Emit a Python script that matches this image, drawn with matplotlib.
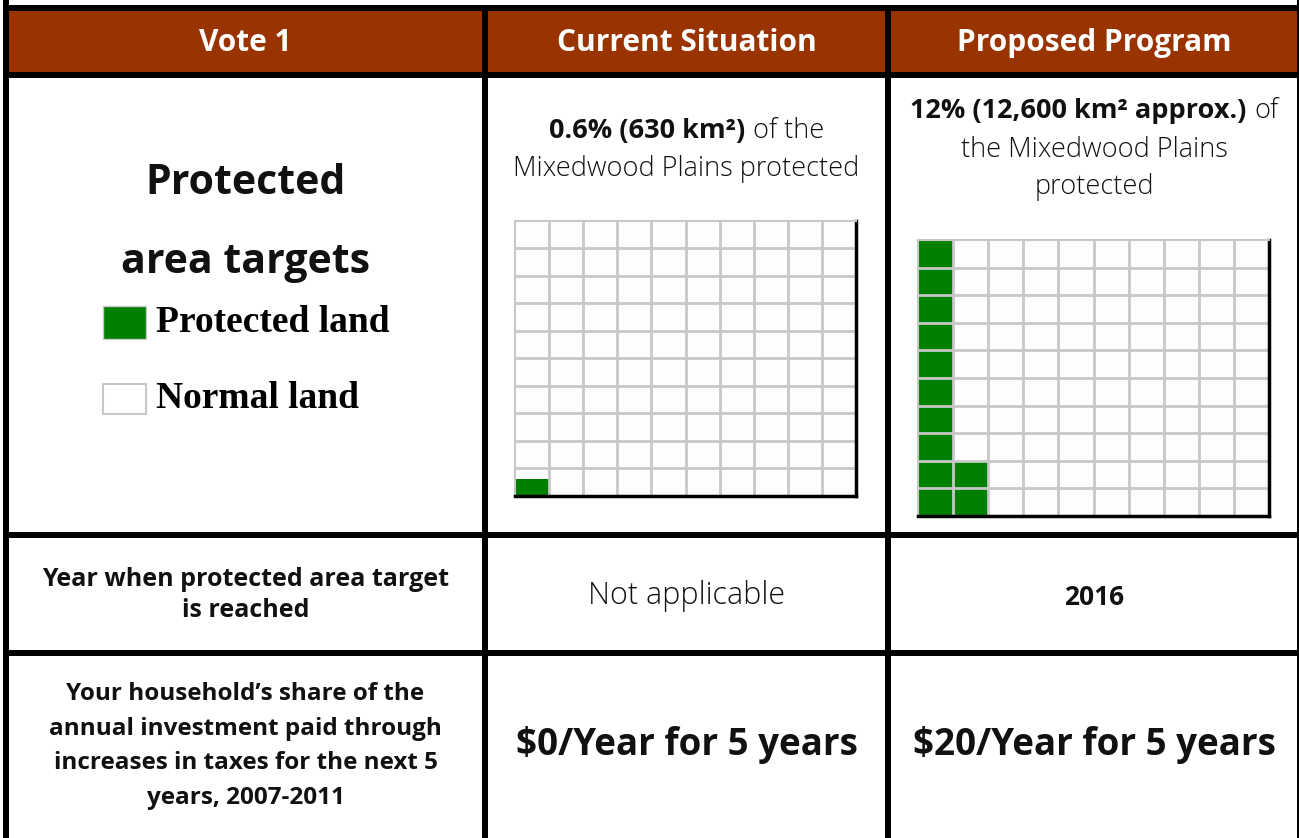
import matplotlib
matplotlib.use("Agg")
import matplotlib.pyplot as plt
from matplotlib.patches import Rectangle
from matplotlib.offsetbox import TextArea, HPacker, AnnotationBbox

# ---------------- data ----------------
headers = ["Vote 1", "Current Situation", "Proposed Program"]
row_label_target = ["Protected", "area targets"]
legend_labels = ["Protected land", "Normal land"]
protected_pct = [0.6, 12]                       # % of area protected (cells of a 10x10 grid)
area_bold = ["0.6% (630 km²)", "12% (12,600 km² approx.)"]
year_label = "Year when protected area target\nis reached"
year_values = ["Not applicable", "2016"]
cost_label = ("Your household\u2019s share of the\nannual investment paid through\n"
              "increases in taxes for the next 5\nyears, 2007-2011")
cost_per_year = [0, 20]
cost_years = 5

# ---------------- style ----------------
W, H = 1299, 838
RED = "#993300"
GREEN = "#008000"
SANS = "Open Sans"
TXT = "#111111"

fig = plt.figure(figsize=(W / 100, H / 100), dpi=100)
ax = fig.add_axes([0, 0, 1, 1])
ax.set_xlim(0, W)
ax.set_ylim(H, 0)
ax.axis("off")

# table frame
cols = [(9, 482), (488, 885), (891, 1297)]
ax.add_patch(Rectangle((9, 11), 1288, 61, color=RED, lw=0))
for x0 in (3, 1297):
    ax.add_patch(Rectangle((x0, 0), 6, H, color="black", lw=0))
for x0 in (482, 885):
    ax.add_patch(Rectangle((x0, 5), 6, H, color="black", lw=0))
for y0 in (5, 72, 532, 650):
    ax.add_patch(Rectangle((3, y0), 1300, 6, color="black", lw=0))

centers = [(a + b) / 2 for a, b in cols]

# header
for c, h in zip(centers, headers):
    ax.text(c, 43, h, ha="center", va="center", color="white", fontsize=21.5,
            fontweight="bold", family=SANS)

# row: protected area targets
ax.text(centers[0], 183, row_label_target[0], ha="center", va="center", fontsize=29.5,
        fontweight="bold", family=SANS, color=TXT)
ax.text(centers[0], 262, row_label_target[1], ha="center", va="center", fontsize=29.5,
        fontweight="bold", family=SANS, color=TXT)
ax.add_patch(Rectangle((103, 306), 43, 33, facecolor=GREEN, edgecolor="#c8c8c8", lw=1))
ax.add_patch(Rectangle((103, 384), 43, 30, facecolor="white", edgecolor="#c8c8c8", lw=1.5))
ax.text(156, 322, legend_labels[0], ha="left", va="center", fontsize=27,
        fontweight="bold", family="Liberation Serif", color="black")
ax.text(156, 398, legend_labels[1], ha="left", va="center", fontsize=27,
        fontweight="bold", family="Liberation Serif", color="black")


def mixed_line(x, y, bold, regular, size):
    parts = []
    if bold:
        parts.append(TextArea(bold, textprops=dict(fontsize=size, fontweight="bold",
                                                   family=SANS, color=TXT)))
    if regular:
        parts.append(TextArea(regular, textprops=dict(fontsize=size, fontweight="light",
                                                      family=SANS, color=TXT)))
    box = HPacker(children=parts, align="baseline", pad=0, sep=6)
    ab = AnnotationBbox(box, (x, y), xycoords="data", frameon=False,
                        box_alignment=(0.5, 0.5), pad=0)
    ax.add_artist(ab)


desc_size = 19.5
mixed_line(centers[1], 131, area_bold[0], "of the", desc_size)
mixed_line(centers[1], 169, None, "Mixedwood Plains protected", desc_size)
mixed_line(centers[2], 111, area_bold[1], "of", desc_size)
mixed_line(centers[2], 150, None, "the Mixedwood Plains", desc_size)
mixed_line(centers[2], 187, None, "protected", desc_size)

# waffle grids (10 x 10, filled column by column from bottom-left)
grid_boxes = [(515, 221, 856, 496), (918, 240, 1269, 516)]
for pct, (x0, y0, x1, y1) in zip(protected_pct, grid_boxes):
    wax = fig.add_axes([x0 / W, 1 - y1 / H, (x1 - x0) / W, (y1 - y0) / H])
    wax.set_xlim(0, 10)
    wax.set_ylim(0, 10)
    wax.set_xticks([])
    wax.set_yticks([])
    wax.set_facecolor("#fdfdfd")
    for i in range(100):
        cx, cy = i // 10, i % 10
        fill = min(max(pct - i, 0), 1)
        if fill > 0:
            wax.add_patch(Rectangle((cx, cy), 1, fill, facecolor=GREEN, lw=0, zorder=1))
    for k in range(1, 10):
        wax.axvline(k, color="#c8c8c8", lw=2, zorder=2)
        wax.axhline(k, color="#c8c8c8", lw=2, zorder=2)
    for s in ("top", "left"):
        wax.spines[s].set_color("#c8c8c8")
        wax.spines[s].set_linewidth(1.5)
    for s in ("right", "bottom"):
        wax.spines[s].set_color("black")
        wax.spines[s].set_linewidth(2.5)

# row: year
ax.text(centers[0], 595, year_label, ha="center", va="center", fontsize=18,
        fontweight="bold", family=SANS, color=TXT, linespacing=1.35)
ax.text(centers[1], 596, year_values[0], ha="center", va="center", fontsize=22,
        fontweight="light", family=SANS, color=TXT)
ax.text(centers[2], 597, year_values[1], ha="center", va="center", fontsize=19,
        fontweight="bold", family=SANS, color=TXT)

# row: cost
ax.text(centers[0], 746, cost_label, ha="center", va="center", fontsize=17.5,
        fontweight="bold", family=SANS, color=TXT, linespacing=1.6)
for c, v in zip(centers[1:], cost_per_year):
    ax.text(c, 745, f"${v}/Year for {cost_years} years", ha="center", va="center",
            fontsize=26.5, fontweight="bold", family=SANS, color=TXT)

fig.savefig("out.png", dpi=100)
